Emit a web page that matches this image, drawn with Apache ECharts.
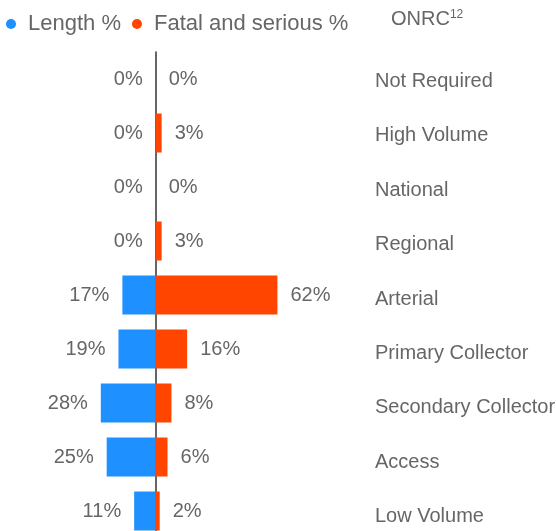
<!DOCTYPE html>
<html>
<head>
<meta charset="utf-8">
<script src="https://cdn.jsdelivr.net/npm/echarts@6/dist/echarts.min.js"></script>
<style>
  html, body { margin: 0; padding: 0; background: #fff; }
  #chart { width: 556px; height: 531px; }
</style>
</head>
<body>
<div id="chart"></div>
<script>
var categories = ['Not Required', 'High Volume', 'National', 'Regional', 'Arterial',
  'Primary Collector', 'Secondary Collector', 'Access', 'Low Volume'];
var lengthPct = [0, 0, 0, 0, 17, 19, 28, 25, 11];
var fatalPct = [0, 3, 0, 3, 62, 16, 8, 6, 2];

var FONT = '"Liberation Sans", Arial, sans-serif';
var GREY = '#666';

var chartDom = document.getElementById('chart');
var myChart = echarts.init(chartDom);

// length bars go to the left of the zero line
var lengthData = lengthPct.map(function (v) { return -v; });

var option = {
  animation: false,
  textStyle: { fontFamily: FONT },
  title: {
    text: '{a|ONRC}{b|12}',
    left: 391,
    top: 9,
    padding: 0,
    textStyle: {
      fontWeight: 'normal',
      rich: {
        a: { fontSize: 20, color: GREY, fontFamily: FONT, fontWeight: 'normal' },
        b: { fontSize: 12, color: GREY, fontFamily: FONT, fontWeight: 'normal', padding: [0, 0, 9, 0] }
      }
    }
  },
  legend: {
    left: 6,
    top: 13,
    padding: 0,
    itemWidth: 24,
    itemHeight: 10,
    itemGap: 11,
    icon: 'circle',
    textStyle: { fontSize: 22, color: GREY, fontFamily: FONT },
    data: ['Length %', 'Fatal and serious %']
  },
  // second grid only carries the category names, spaced a little wider
  grid: [
    { left: 38, width: 314, top: 52, height: 486, outerBoundsMode: 'none' },
    { left: 38, width: 314, top: 54, height: 490, outerBoundsMode: 'none' }
  ],
  xAxis: [
    { type: 'value', gridIndex: 0, min: -60, max: 100, show: false },
    { type: 'value', gridIndex: 1, min: -60, max: 100, show: false }
  ],
  yAxis: [
    {
      type: 'category',
      gridIndex: 0,
      data: categories,
      inverse: true,
      axisLine: { show: true, onZero: true, lineStyle: { color: '#333', width: 1.5 } },
      axisTick: { show: false },
      axisLabel: { show: false }
    },
    {
      type: 'category',
      gridIndex: 1,
      data: categories,
      inverse: true,
      position: 'right',
      axisLine: { show: false, onZero: false },
      axisTick: { show: false },
      axisLabel: { fontSize: 20, color: GREY, margin: 23, fontFamily: FONT }
    }
  ],
  series: [
    {
      name: 'Length %',
      type: 'bar',
      xAxisIndex: 0,
      yAxisIndex: 0,
      data: lengthData,
      barWidth: 39,
      barGap: '-100%',
      itemStyle: { color: '#1E90FF' },
      label: {
        show: true,
        position: 'left',
        distance: 13,
        fontSize: 20,
        color: GREY,
        fontFamily: FONT,
        formatter: function (p) { return Math.abs(p.value) + '%'; }
      }
    },
    {
      name: 'Fatal and serious %',
      type: 'bar',
      xAxisIndex: 0,
      yAxisIndex: 0,
      data: fatalPct,
      barWidth: 39,
      barGap: '-100%',
      itemStyle: { color: '#FF4500' },
      label: {
        show: true,
        position: 'right',
        distance: 13,
        fontSize: 20,
        color: GREY,
        fontFamily: FONT,
        formatter: '{c}%'
      }
    }
  ]
};

myChart.setOption(option);
</script>
</body>
</html>
